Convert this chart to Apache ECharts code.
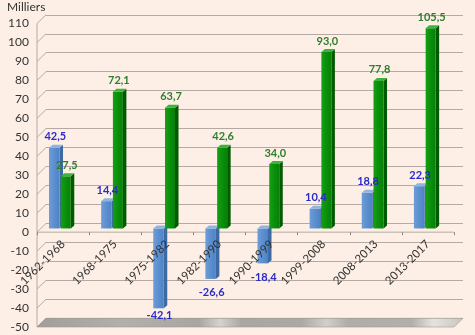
<!DOCTYPE html>
<html>
<head>
<meta charset="utf-8">
<script src="https://cdn.jsdelivr.net/npm/echarts@6/dist/echarts.min.js"></script>
<style>
html,body{margin:0;padding:0;background:#fdefe5;}
#c{width:475px;height:335px;}
</style>
</head>
<body>
<div id="c"></div>
<script>
// ---- data ----
const categories = ['1962-1968','1968-1975','1975-1982','1982-1990','1990-1999','1999-2008','2008-2013','2013-2017'];
const blueValues = [42.5, 14.4, -42.1, -26.6, -18.4, 10.4, 18.8, 22.3];
const greenValues = [27.5, 72.1, 63.7, 42.6, 34.0, 93.0, 77.8, 105.5];
const yTicks = [-50, -40, -30, -20, -10, 0, 10, 20, 30, 40, 50, 60, 70, 80, 90, 100, 110];
const yMin = -50, yMax = 110, yStep = 10;
const unitLabel = 'Milliers';

// ---- styling / layout ----
const FONT = 'Lato, "Liberation Sans", sans-serif';
const GRID_COLOR = '#b5aaa3';
const GRID_TOP = 23.5, GRID_BOTTOM = 8, CHART_H = 335;
const DEPTH_X = 9, DEPTH_Y = -8.7;      // back wall offset
const BAR_DY = -3.7;                     // bars plane offset
const SIDE_X = 3.5, SIDE_Y = -3;          // bar depth
const fmt = v => v.toFixed(1).replace('.', ',');
// offset of the category axis so that it sits on the value 0 line
const plotH = CHART_H - GRID_TOP - GRID_BOTTOM;
const zeroOffset = -plotH * (0 - yMin) / (yMax - yMin);

const chart = echarts.init(document.getElementById('c'), null, {renderer: 'canvas'});

function geom(api, offsetX, width) {
  const i = api.value(0), v = api.value(1);
  const base = api.coord([i, 0]);
  const tip = api.coord([i, v]);
  const floorY = api.coord([i, yMin])[1];
  const cx = base[0] + offsetX;
  const yz = base[1] + BAR_DY, yv = tip[1] + BAR_DY;
  return {v, cx, x0: cx - width / 2, x1: cx + width / 2, yTop: Math.min(yz, yv), yBot: Math.max(yz, yv), floorY};
}

function barRenderer(offsetX, width, cols) {
  return function (params, api) {
    const g = geom(api, offsetX, width);
    const {x0, x1, yTop, yBot} = g;
    return {
      type: 'group',
      children: [
        {type: 'polygon', shape: {points: [[x1, yTop], [x1 + SIDE_X, yTop + SIDE_Y], [x1 + SIDE_X, yBot + SIDE_Y], [x1, yBot]]},
         style: {fill: cols.side}},
        {type: 'rect', shape: {x: x0, y: yTop, width: width, height: yBot - yTop},
         style: {fill: new echarts.graphic.LinearGradient(0, 0, 1, 0, [{offset: 0, color: cols.front2}, {offset: 0.5, color: cols.front}, {offset: 1, color: cols.front3}])}},
        {type: 'polygon', shape: {points: [[x0, yTop], [x1, yTop], [x1 + SIDE_X, yTop + SIDE_Y], [x0 + SIDE_X, yTop + SIDE_Y]]},
         style: {fill: cols.top}}
      ]
    };
  };
}

function labelRenderer(offsetX, width, labelColor) {
  return function (params, api) {
    const g = geom(api, offsetX, width);
    const ly = g.v >= 0 ? g.yTop - 11 : Math.min(g.yBot + 14, g.floorY - 12);
    return {type: 'text', style: {text: fmt(g.v), x: g.cx + 1, y: ly, align: 'center', verticalAlign: 'middle',
      fill: labelColor, font: 'bold 11px ' + FONT}};
  };
}

function frameRenderer(params, api) {
  const cs = params.coordSys;
  const x0 = cs.x, x1 = cs.x + cs.width;
  const children = [];
  yTicks.forEach(t => {
    const y = api.coord([0, t])[1];
    children.push({type: 'line', shape: {x1: x0, y1: y, x2: x0 + DEPTH_X, y2: y + DEPTH_Y},
      style: {stroke: GRID_COLOR, lineWidth: 1}});
  });
  const yT = api.coord([0, yMax])[1], yB = api.coord([0, yMin])[1], y0 = api.coord([0, 0])[1];
  children.push({type: 'line', shape: {x1: x0, y1: yT, x2: x0, y2: yB}, style: {stroke: GRID_COLOR, lineWidth: 1}});
  // category axis line at value 0 (front plane)
  children.push({type: 'line', shape: {x1: x0, y1: y0, x2: x1, y2: y0}, style: {stroke: GRID_COLOR, lineWidth: 1}});
  children.push({type: 'polygon', shape: {points: [[x0, yB], [x1, yB], [x1 + DEPTH_X, yB + DEPTH_Y], [x0 + DEPTH_X, yB + DEPTH_Y]]},
    style: {fill: new echarts.graphic.LinearGradient(0, 0, 1, 0, [
      {offset: 0, color: '#a19d99'}, {offset: 0.2, color: '#b3afab'}, {offset: 0.38, color: '#a9a5a1'},
      {offset: 0.43, color: '#d6d2ce'}, {offset: 0.48, color: '#aaa6a2'}, {offset: 0.62, color: '#aca8a4'},
      {offset: 0.68, color: '#d2cec9'}, {offset: 0.73, color: '#b0aca8'}, {offset: 0.88, color: '#b3afab'},
      {offset: 0.93, color: '#e6e2de'}, {offset: 1, color: '#c9c5c1'}]),
      stroke: '#9c9894', lineWidth: 0.6}});
  return {type: 'group', children: children};
}

const blueCols = {front: '#5b8fcf', front2: '#6d9dd8', front3: '#4f82c2', side: '#3d6aa3', top: '#8fb4e0'};
const greenCols = {front: '#0b8f0b', front2: '#15a015', front3: '#078007', side: '#005a00', top: '#3cb43c'};

const option = {
  backgroundColor: '#fdefe5',
  animation: false,
  title: {text: unitLabel, left: 7, top: 1, padding: 0,
    textStyle: {fontFamily: FONT, fontSize: 12, fontWeight: 'normal', color: '#333'}},
  grid: [
    {left: 37, right: 21, top: GRID_TOP, bottom: GRID_BOTTOM},
    {left: 46, right: 12, top: GRID_TOP + DEPTH_Y, bottom: GRID_BOTTOM - DEPTH_Y}
  ],
  xAxis: [
    {type: 'category', gridIndex: 0, data: categories, boundaryGap: true, position: 'bottom', offset: zeroOffset, z: 20,
     axisLine: {show: false, onZero: false},
     axisTick: {show: true, length: 3, lineStyle: {color: '#8f8680'}},
     axisLabel: {rotate: 45, margin: 10, fontFamily: FONT, fontSize: 11.5, color: '#333', interval: 0},
     splitLine: {show: false}},
    {type: 'category', gridIndex: 1, data: categories, show: false}
  ],
  yAxis: [
    {type: 'value', gridIndex: 0, min: yMin, max: yMax, interval: yStep,
     axisLine: {show: false}, axisTick: {show: false}, splitLine: {show: false},
     axisLabel: {margin: 8, fontFamily: FONT, fontSize: 12, color: '#333'}},
    {type: 'value', gridIndex: 1, min: yMin, max: yMax, interval: yStep,
     axisLine: {show: false}, axisTick: {show: false}, axisLabel: {show: false},
     splitLine: {show: true, lineStyle: {color: GRID_COLOR, width: 1}}}
  ],
  series: [
    {type: 'custom', name: 'frame', xAxisIndex: 0, yAxisIndex: 0, z: 1, clip: false, silent: true,
     data: [[0, 0]], renderItem: frameRenderer},
    {type: 'custom', name: 'blue', xAxisIndex: 0, yAxisIndex: 0, z: 3, clip: false,
     data: blueValues.map((v, i) => [i, v]), renderItem: barRenderer(-8.8, 10.5, blueCols)},
    {type: 'custom', name: 'green', xAxisIndex: 0, yAxisIndex: 0, z: 4, clip: false,
     data: greenValues.map((v, i) => [i, v]), renderItem: barRenderer(2.7, 10, greenCols)},
    {type: 'custom', name: 'blueLabels', xAxisIndex: 0, yAxisIndex: 0, z: 10, clip: false, silent: true,
     data: blueValues.map((v, i) => [i, v]), renderItem: labelRenderer(-8.8, 10.5, '#2a2ac8')},
    {type: 'custom', name: 'greenLabels', xAxisIndex: 0, yAxisIndex: 0, z: 10, clip: false, silent: true,
     data: greenValues.map((v, i) => [i, v]), renderItem: labelRenderer(2.7, 10, '#2f7d2f')}
  ]
};
chart.setOption(option);
</script>
</body>
</html>
